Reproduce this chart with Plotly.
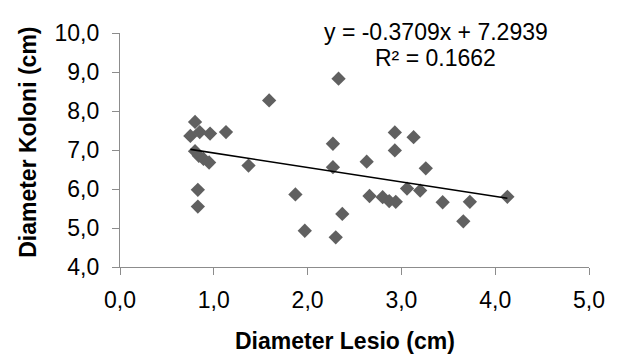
import numpy as np
import plotly.graph_objects as go

# Data
lesio_cm = [0.80, 0.75, 0.85, 0.96, 1.13, 0.80, 0.84, 0.89, 0.95, 1.37,
            0.83, 0.83, 1.59, 2.33, 2.27, 2.27, 1.87, 2.37, 1.97, 2.30,
            2.63, 2.93, 3.13, 2.93, 3.26, 2.66, 2.80, 2.87, 2.94, 3.06,
            3.20, 3.44, 3.73, 3.66, 4.13]
koloni_cm = [7.72, 7.36, 7.46, 7.42, 7.46, 6.97, 6.85, 6.77, 6.68, 6.60,
             5.98, 5.55, 8.27, 8.83, 7.16, 6.56, 5.86, 5.36, 4.93, 4.76,
             6.70, 7.45, 7.33, 6.99, 6.53, 5.82, 5.79, 5.69, 5.67, 6.01,
             5.96, 5.66, 5.67, 5.17, 5.80]

# Linear trendline as printed on the chart
slope = -0.3709
intercept = 7.2939
r_squared = 0.1662

x_ticks = [0, 1, 2, 3, 4, 5]
y_ticks = [4, 5, 6, 7, 8, 9, 10]

FONT = "Liberation Sans, Arial, sans-serif"

trend_x = np.array([min(lesio_cm), max(lesio_cm)])
trend_y = slope * trend_x + intercept

fig = go.Figure()
fig.add_trace(go.Scatter(
    x=lesio_cm, y=koloni_cm, mode="markers",
    marker=dict(symbol="diamond", size=11, color="#606060",
                line=dict(width=0)),
    showlegend=False,
))
fig.add_trace(go.Scatter(
    x=trend_x, y=trend_y, mode="lines",
    line=dict(color="#000000", width=1.6),
    showlegend=False,
))

axis_common = dict(
    showgrid=False, zeroline=False, showline=True,
    linecolor="#8C8C8C", linewidth=1.3,
    ticks="outside", ticklen=7, tickcolor="#8C8C8C", tickwidth=1.3,
    tickfont=dict(family=FONT, size=23, color="#000000"),
    tickformat=".1f",
)

# the page body adds an 8px offset, so the figure is 8px smaller
fig.update_layout(
    width=609, height=348,
    margin=dict(l=112, r=18, t=16, b=89),
    paper_bgcolor="#FFFFFF", plot_bgcolor="#FFFFFF",
    separators=",.",
    xaxis=dict(range=[0, 5], tickvals=x_ticks, ticklabelstandoff=5,
               **axis_common),
    yaxis=dict(range=[4, 10], tickvals=y_ticks, ticklabelstandoff=8,
               **axis_common),
    annotations=[
        dict(text=f"y = {slope:.4f}x + {intercept:.4f}", xref="paper", yref="paper",
             x=0.674, y=1.005, xanchor="center", yanchor="middle", showarrow=False,
             font=dict(family=FONT, size=23, color="#000000")),
        dict(text=f"R² = {r_squared:.4f}", xref="paper", yref="paper",
             x=0.672, y=0.894, xanchor="center", yanchor="middle", showarrow=False,
             font=dict(family=FONT, size=23, color="#000000")),
        dict(text="<b>Diameter Lesio (cm)</b>", xref="paper", yref="paper",
             x=0.480, y=-0.318, xanchor="center", yanchor="middle", showarrow=False,
             font=dict(family=FONT, size=23, color="#000000")),
        dict(text="<b>Diameter Koloni (cm)</b>", xref="paper", yref="paper",
             x=-0.196, y=0.531, xanchor="center", yanchor="middle", showarrow=False,
             textangle=-90,
             font=dict(family=FONT, size=23, color="#000000")),
    ],
)

fig.write_html("out.html")
